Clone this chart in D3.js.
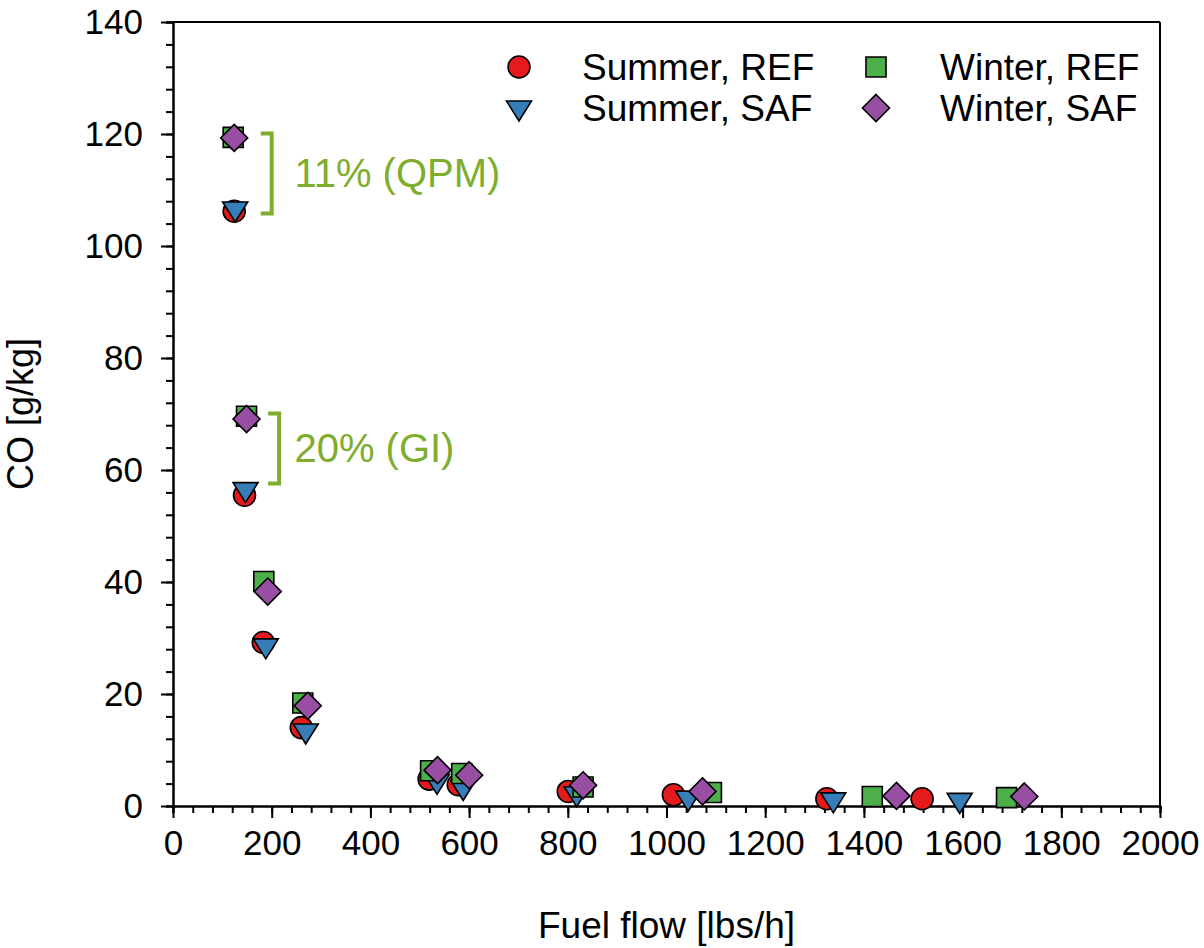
<!DOCTYPE html>
<html>
<head>
<meta charset="utf-8">
<script src="https://cdn.jsdelivr.net/npm/d3@7"></script>
<style>
  body { margin: 0; background: #fff; }
  svg { font-family: "Liberation Sans", Arial, sans-serif; }
  .axis path, .axis line { stroke: #000; stroke-width: 2px; }
  .axis text { font-size: 35px; fill: #000; }
</style>
</head>
<body>
<div id="plot"></div>
<script>
// data
var summerRefX = [124, 145, 183, 260, 519, 578, 801, 1014, 1325, 1518];
var summerRefY = [106.2, 55.5, 29.2, 14.0, 4.8, 3.8, 2.6, 2.0, 1.3, 1.3];
var summerSafX = [126, 147, 188, 269, 535, 588, 818, 1044, 1338, 1594];
var summerSafY = [106.6, 56.5, 28.6, 13.4, 4.4, 3.3, 2.2, 1.4, 1.1, 1.0];
var winterRefX = [122, 149, 184, 263, 522, 585, 831, 1091, 1417, 1689];
var winterRefY = [119.4, 69.6, 40.1, 18.4, 6.3, 5.8, 3.4, 2.4, 1.7, 1.5];
var winterSafX = [124, 149, 192, 273, 536, 600, 831, 1073, 1466, 1725];
var winterSafY = [119.3, 69.1, 38.3, 17.9, 6.4, 5.5, 3.7, 2.6, 1.8, 1.7];

var seriesNames = ['Summer, REF', 'Summer, SAF', 'Winter, REF', 'Winter, SAF'];
var xTicks = [0, 200, 400, 600, 800, 1000, 1200, 1400, 1600, 1800, 2000];
var yTicks = [0, 20, 40, 60, 80, 100, 120, 140];

// brackets: x (lbs/h), y top, y bottom, label
var bracketX = [200, 215];
var bracketTop = [120.1, 70.1];
var bracketBottom = [105.8, 57.6];
var bracketLabels = ['11% (QPM)', '20% (GI)'];

var margin = {t:22, r:44, b:142, l:173};
var W = 1204, H = 948;
var width = W - margin.l - margin.r,
	height = H - margin.t - margin.b;

var svg = d3.select('#plot')
	.append('svg')
	.attr('width', W)
	.attr('height', H);

var plot = svg.append('g')
	.attr('transform', 'translate(' + margin.l + ',' + margin.t + ')');

var x = d3.scaleLinear().domain([0, 2000]).range([0, width]);
var y = d3.scaleLinear().domain([0, 140]).range([height, 0]);

// minor ticks first
plot.append('g').attr('class', 'axis')
	.attr('transform', 'translate(0,' + height + ')')
	.call(d3.axisBottom(x).tickValues(d3.range(0, 2001, 40)).tickSize(7).tickFormat(''));
plot.append('g').attr('class', 'axis')
	.call(d3.axisLeft(y).tickValues(d3.range(0, 141, 4)).tickSize(7).tickFormat(''));

// major ticks
plot.append('g').attr('class', 'axis')
	.attr('transform', 'translate(0,' + height + ')')
	.call(d3.axisBottom(x).tickValues(xTicks).tickSize(12).tickSizeOuter(0).tickPadding(12).tickFormat(d3.format('d')));
plot.append('g').attr('class', 'axis')
	.call(d3.axisLeft(y).tickValues(yTicks).tickSize(12).tickSizeOuter(0).tickPadding(18).tickFormat(d3.format('d')));

// top and right frame
plot.append('line').attr('x1', 0).attr('x2', width).attr('y1', 0).attr('y2', 0)
	.style('stroke', '#000').style('stroke-width', '2px');
plot.append('line').attr('x1', width).attr('x2', width).attr('y1', 0).attr('y2', height)
	.style('stroke', '#000').style('stroke-width', '2px');

// axis titles
svg.append('text')
	.attr('x', margin.l + width / 2)
	.attr('y', 938)
	.attr('text-anchor', 'middle')
	.style('font-size', '37px')
	.text('Fuel flow [lbs/h]');
svg.append('text')
	.attr('transform', 'translate(33,' + (margin.t + height / 2) + ') rotate(-90)')
	.attr('text-anchor', 'middle')
	.style('font-size', '36px')
	.text('CO [g/kg]');

// marker shapes
var colors = ['#e41a1c', '#377eb8', '#4daf4a', '#984ea3'];
function markerPath(i) {
	if (i === 0) return d3.symbol().type(d3.symbolCircle).size(Math.PI * 11 * 11)();
	if (i === 1) return 'M-12.5,-7L12.5,-7L0,13Z';
	if (i === 2) return 'M-10,-10H10V10H-10Z';
	return 'M0,-13.5L13.5,0L0,13.5L-13.5,0Z';
}

var series = [
	{xs: summerRefX, ys: summerRefY},
	{xs: summerSafX, ys: summerSafY},
	{xs: winterRefX, ys: winterRefY},
	{xs: winterSafX, ys: winterSafY}
];

series.forEach(function (s, i) {
	s.xs.forEach(function (xv, j) {
		plot.append('path')
			.attr('d', markerPath(i))
			.attr('transform', 'translate(' + x(xv) + ',' + y(s.ys[j]) + ')')
			.style('fill', colors[i])
			.style('stroke', '#000')
			.style('stroke-width', '1.6px');
	});
});

// brackets
var green = '#7fad2d';
bracketX.forEach(function (bx, i) {
	var x0 = x(bx), y0 = y(bracketTop[i]), y1 = y(bracketBottom[i]);
	plot.append('path')
		.attr('d', 'M' + (x0 - 11) + ',' + y0 + 'H' + x0 + 'V' + y1 + 'H' + (x0 - 11))
		.style('fill', 'none')
		.style('stroke', green)
		.style('stroke-width', '4px');
	plot.append('text')
		.attr('x', x(246))
		.attr('y', (y0 + y1) / 2)
		.attr('dy', '0.35em')
		.style('font-size', '40px')
		.style('fill', green)
		.text(bracketLabels[i]);
});

// legend
var legX = [519, 876], legTextX = [582, 940], legY = [67, 108];
seriesNames.forEach(function (name, i) {
	var col = i < 2 ? 0 : 1, row = i % 2;
	svg.append('path')
		.attr('d', markerPath(i))
		.attr('transform', 'translate(' + legX[col] + ',' + legY[row] + ')')
		.style('fill', colors[i])
		.style('stroke', '#000')
		.style('stroke-width', '1.6px');
	svg.append('text')
		.attr('x', legTextX[col])
		.attr('y', legY[row])
		.attr('dy', '0.36em')
		.style('font-size', '37px')
		.text(name);
});

// cut-off page mark in the corner
svg.append('text')
	.attr('x', 1196).attr('y', 963)
	.style('font-size', '22px')
	.text('5');
</script>
</body>
</html>
